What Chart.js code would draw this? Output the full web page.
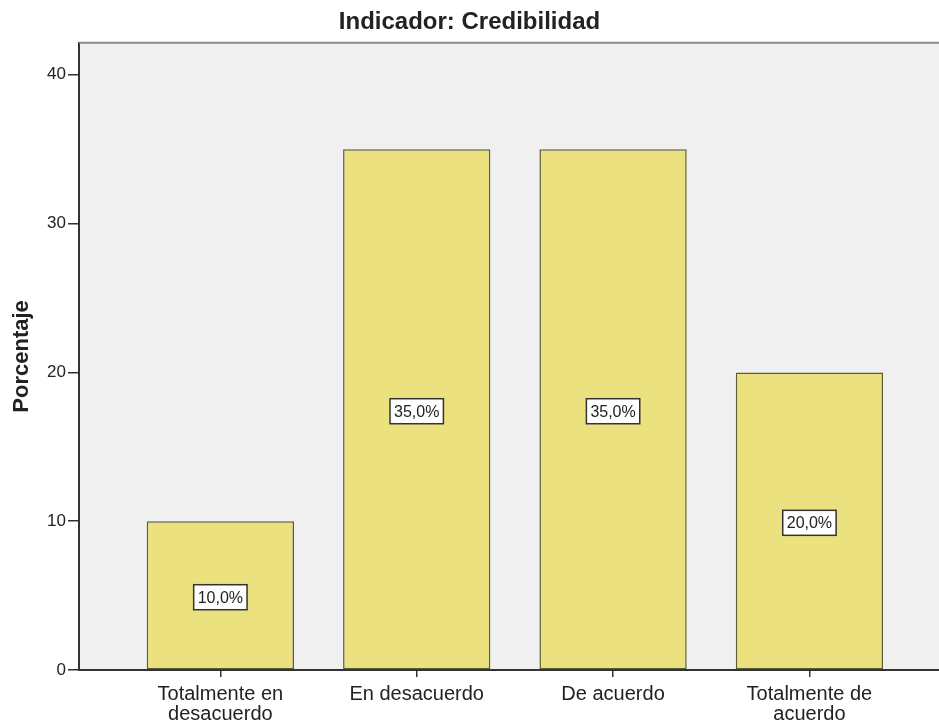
<!DOCTYPE html>
<html>
<head>
<meta charset="utf-8">
<script src="https://cdn.jsdelivr.net/npm/chart.js@4"></script>
<style>
  body { margin: 0; background: #fff; }
  #wrap { width: 939px; height: 725px; }
</style>
</head>
<body>
<div id="wrap"><canvas id="credibilidadChart"></canvas></div>
<script>
// Indicador: Credibilidad

const categorias = [
  ['Totalmente en', 'desacuerdo'],
  'En desacuerdo',
  'De acuerdo',
  ['Totalmente de', 'acuerdo']
];
const porcentajes = [10, 35, 35, 20];
const yTicks = [0, 10, 20, 30, 40];

const fuente = "'Liberation Sans', Arial, sans-serif";

// gray plot background + top border line
const fondoPlugin = {
  id: 'fondo',
  beforeDraw(chart) {
    const { ctx, chartArea } = chart;
    ctx.save();
    ctx.fillStyle = '#f0f0f0';
    ctx.fillRect(chartArea.left, chartArea.top, chartArea.right - chartArea.left, chartArea.bottom - chartArea.top);
    ctx.restore();
  },
  afterDraw(chart) {
    const { ctx, chartArea } = chart;
    ctx.save();
    ctx.strokeStyle = '#888';
    ctx.lineWidth = 2;
    ctx.beginPath();
    ctx.moveTo(chartArea.left, chartArea.top);
    ctx.lineTo(chartArea.right, chartArea.top);
    ctx.stroke();
    ctx.restore();
  }
};

// boxed value labels in the middle of each bar
const etiquetasPlugin = {
  id: 'etiquetas',
  afterDatasetsDraw(chart) {
    const { ctx } = chart;
    const meta = chart.getDatasetMeta(0);
    ctx.save();
    ctx.font = '16px ' + fuente;
    ctx.textAlign = 'center';
    ctx.textBaseline = 'middle';
    meta.data.forEach((bar, i) => {
      const texto = porcentajes[i].toFixed(1).replace('.', ',') + '%';
      const cy = (bar.y + bar.base) / 2 + 2;
      const w = ctx.measureText(texto).width + 8;
      const h = 25;
      ctx.fillStyle = '#fff';
      ctx.fillRect(bar.x - w / 2, cy - h / 2, w, h);
      ctx.strokeStyle = '#333';
      ctx.lineWidth = 1.5;
      ctx.strokeRect(bar.x - w / 2, cy - h / 2, w, h);
      ctx.fillStyle = '#222';
      ctx.fillText(texto, bar.x, cy + 1);
    });
    ctx.restore();
  }
};

const ctx = document.getElementById('credibilidadChart');
new Chart(ctx, {
  type: 'bar',
  data: {
    datasets: [{
      label: 'Porcentaje',
      data: porcentajes.map((v, i) => ({ x: i, y: v })),
      backgroundColor: '#ebe17e',
      borderColor: '#5c5c36',
      borderWidth: 1.5,
      borderSkipped: false,
      categoryPercentage: 1,
      barPercentage: 0.75
    }]
  },
  options: {
    responsive: true,
    maintainAspectRatio: false,
    animation: false,
    layout: { padding: 0 },
    plugins: {
      legend: { display: false },
      tooltip: { enabled: false },
      title: {
        display: true,
        text: 'Indicador: Credibilidad',
        color: '#222',
        font: { family: fuente, size: 24, weight: 'bold' },
        padding: { top: 8, bottom: 6 }
      }
    },
    scales: {
      x: {
        type: 'linear',
        offset: false,
        min: -0.72,
        max: 3.66,
        afterBuildTicks: (scale) => {
          scale.ticks = categorias.map((c, i) => ({ value: i }));
        },
        afterFit: (scale) => { scale.height = 55; },
        ticks: {
          callback: (v) => categorias[v],
          color: '#222',
          font: { family: fuente, size: 20, lineHeight: 1.0 },
          padding: 7,
          maxRotation: 0,
          autoSkip: false
        },
        grid: {
          display: true,
          offset: false,
          drawOnChartArea: false,
          drawTicks: true,
          tickLength: 7,
          color: '#333',
          lineWidth: 1.5
        },
        border: { display: true, color: '#333', width: 2 }
      },
      y: {
        min: 0,
        max: 42.15,
        afterBuildTicks: (scale) => {
          scale.ticks = yTicks.map(v => ({ value: v }));
        },
        afterFit: (scale) => { scale.width = 79; },
        ticks: {
          color: '#222',
          font: { family: fuente, size: 17 },
          padding: 2
        },
        grid: {
          display: true,
          drawOnChartArea: false,
          drawTicks: true,
          tickLength: 11,
          color: '#333',
          lineWidth: 1.5
        },
        border: { display: true, color: '#333', width: 2 },
        title: {
          display: true,
          text: 'Porcentaje',
          color: '#222',
          font: { family: fuente, size: 22, weight: 'bold' },
          padding: { top: 9, bottom: 0 }
        }
      }
    }
  },
  plugins: [fondoPlugin, etiquetasPlugin]
});
</script>
</body>
</html>
